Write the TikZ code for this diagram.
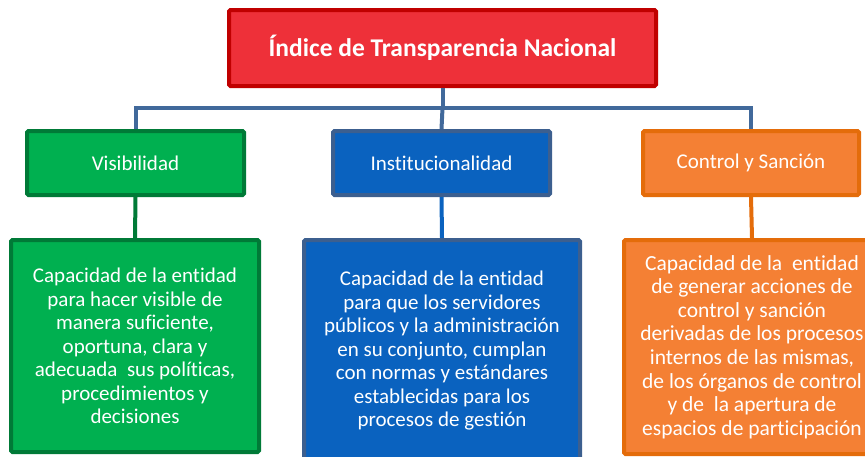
\documentclass[tikz,border=0pt]{standalone}
\usepackage{fontspec}
\setmainfont[Ligatures={NoCommon}]{Carlito}
\definecolor{redfill}{HTML}{EE3039}
\definecolor{redline}{HTML}{C00000}
\definecolor{grfill}{HTML}{00B050}
\definecolor{grline}{HTML}{007A37}
\definecolor{blfill}{HTML}{0A62BF}
\definecolor{blline}{HTML}{3C5F8F}
\definecolor{orfill}{HTML}{F48034}
\definecolor{orline}{HTML}{E46C0A}
\definecolor{bus}{HTML}{41699B}
\tikzset{
  box/.style={rectangle, rounded corners=1.5pt, line width=4pt, text=white, align=center, inner sep=0pt},
  head/.style={box, font=\fontsize{21}{24}\selectfont},
  desc/.style={box, font=\fontsize{21}{23.5}\selectfont},
  conn/.style={line width=4pt, color=bus},
}
\begin{document}
\begin{tikzpicture}[x=1pt,y=-1pt]
\useasboundingbox (0,0) rectangle (865,456);
% title
\node[box, fill=redfill, draw=redline, minimum width=427pt, minimum height=76pt,
      font=\fontsize{25.5}{28}\selectfont\bfseries] (top) at (442.5,48) {Índice de Transparencia Nacional};
% headers
\node[head, fill=grfill, draw=grline, minimum width=217pt, minimum height=64pt] (vis) at (135.5,163) {Visibilidad};
\node[head, fill=blfill, draw=blline, minimum width=217pt, minimum height=64pt] (inst) at (441.5,163) {Institucionalidad};
\node[head, fill=orfill, draw=orline, minimum width=216pt, minimum height=64pt] (ctl) at (751,163) {Control y Sanción};
% descriptions
\node[desc, fill=grfill, draw=grline, minimum width=248pt, minimum height=212pt] (visd) at (135,346)
  {Capacidad de la entidad\\para hacer visible de\\manera suficiente,\\oportuna, clara y\\adecuada~ sus políticas,\\procedimientos y\\decisiones};
\node[desc, fill=blfill, draw=blline, minimum width=276pt, minimum height=222pt] (instd) at (442,351)
  {Capacidad de la entidad\\para que los servidores\\públicos y la administración\\en su conjunto, cumplan\\con normas y estándares\\establecidas para los\\procesos de gestión};
\node[desc, fill=orfill, draw=orline, minimum width=256pt, minimum height=214pt,
      font=\fontsize{21.5}{23.6}\selectfont] (ctld) at (752,347)
  {Capacidad de la~ entidad\\de generar acciones de\\control y sanción\\derivadas de los procesos\\internos de las mismas,\\de los órganos de control\\y de~ la apertura de\\espacios de participación};
% connectors
\coordinate (bar) at (442.5,108);
\draw[conn] (top.south) -- (bar);
\draw[conn] (vis.north) |- (bar) -| (ctl.north);
\draw[conn] (bar) -- (inst.north);
\draw[line width=4pt, grline] (vis.south) -- (visd.north);
\draw[line width=4pt, blfill] (inst.south) -- (instd.north);
\draw[line width=4pt, orline] (ctl.south) -- (ctld.north);
\end{tikzpicture}
\end{document}
